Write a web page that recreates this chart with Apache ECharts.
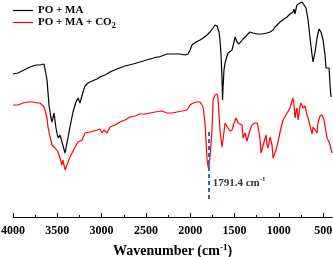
<!DOCTYPE html>
<html>
<head>
<meta charset="utf-8">
<script src="https://cdn.jsdelivr.net/npm/echarts@6/dist/echarts.min.js"></script>
<style>html,body{margin:0;padding:0;background:#fff}#c{width:333px;height:257px}</style>
</head>
<body>
<div id="c"></div>
<script>
// Wavenumber (cm-1) / relative transmittance (arb. units)
const seriesNames = ['PO + MA', 'PO + MA + CO2'];
const majorTicks = [4000, 3500, 3000, 2500, 2000, 1500, 1000, 500];
const minorTicks = [3750, 3250, 2750, 2250, 1750, 1250, 750];
const poMa = [[4000,143],[3944,144],[3898,146],[3853,148],[3808,150],[3774,151],[3740,152],[3718,153],[3695,152],[3673,154],[3650,153],[3639,151],[3616,137],[3594,112],[3571,99],[3560,95],[3537,104],[3515,89],[3492,79],[3470,82],[3447,75],[3413,64],[3391,74],[3357,90],[3323,105],[3289,115],[3266,119],[3244,114],[3233,112],[3210,125],[3187,131],[3153,134],[3108,136],[3052,138],[3018,140],[2962,142],[2905,145],[2826,148],[2736,151],[2646,153],[2567,155],[2454,158],[2375,160],[2363,162],[2352,160],[2262,163],[2171,163],[2115,163],[2059,162],[2025,163],[2002,167],[1980,172],[1934,175],[1889,177],[1855,179],[1810,182],[1777,185],[1742,189],[1720,192],[1697,191],[1675,185],[1664,177],[1652,162],[1641,137],[1635,117],[1630,129],[1619,147],[1607,154],[1585,161],[1573,164],[1551,165],[1528,167],[1506,175],[1494,180],[1472,175],[1449,173],[1427,175],[1404,178],[1381,180],[1348,183],[1325,185],[1291,184],[1246,183],[1190,183],[1133,184],[1099,185],[1065,187],[1043,190],[1020,192],[986,195],[941,198],[907,200],[874,203],[840,205],[828,208],[817,203],[806,208],[795,212],[761,214],[738,215],[716,214],[693,209],[670,197],[648,179],[625,162],[614,155],[591,165],[569,179],[546,188],[524,185],[501,177],[479,162],[467,149],[456,151],[445,147],[433,149],[422,132],[411,120]];
const poMaCo2 = [[4000,112],[3944,112],[3887,114],[3831,115],[3774,115],[3729,114],[3695,114],[3673,113],[3650,110],[3639,107],[3616,99],[3605,90],[3582,80],[3560,72],[3549,74],[3526,69],[3492,65],[3470,59],[3447,52],[3436,57],[3413,47],[3391,52],[3379,55],[3357,60],[3334,64],[3300,70],[3266,75],[3244,76],[3221,77],[3187,84],[3131,85],[3052,87],[3018,88],[2995,84],[2973,87],[2962,87],[2939,84],[2905,90],[2849,92],[2792,95],[2736,97],[2679,100],[2623,101],[2567,103],[2510,103],[2454,104],[2397,105],[2318,106],[2262,104],[2205,104],[2149,105],[2092,106],[2036,107],[2002,112],[1968,114],[1923,115],[1889,115],[1855,110],[1833,94],[1822,77],[1810,57],[1791.4,47],[1788,52],[1777,60],[1754,87],[1742,117],[1720,122],[1709,124],[1697,123],[1686,118],[1675,102],[1664,87],[1641,70],[1630,72],[1619,85],[1607,94],[1585,92],[1573,89],[1551,86],[1528,87],[1506,94],[1483,99],[1460,94],[1438,93],[1415,92],[1404,79],[1381,84],[1359,76],[1348,77],[1325,87],[1302,92],[1269,94],[1246,94],[1235,91],[1212,77],[1201,64],[1190,65],[1167,75],[1144,82],[1133,72],[1122,69],[1099,80],[1077,72],[1065,59],[1054,57],[1032,67],[1020,71],[986,85],[953,97],[907,104],[874,109],[851,116],[840,119],[828,112],[817,99],[806,105],[795,109],[783,97],[772,96],[761,111],[749,114],[727,109],[704,111],[682,102],[670,99],[648,91],[625,83],[614,90],[591,87],[569,84],[557,95],[535,101],[512,102],[490,97],[479,95],[456,79],[433,75],[422,72],[400,64]];
const markerWn = 1791.4;
const markerSpan = [15, 85];
const markerLabelY = 34;

const serif = '"Liberation Serif", "DejaVu Serif", serif';
const chart = echarts.init(document.getElementById('c'), null, {renderer: 'canvas'});
chart.setOption({
  animation: false,
  backgroundColor: '#fff',
  grid: {left: 13, right: 1, top: 0, bottom: 40, containLabel: false, outerBoundsMode: 'none'},
  legend: {
    orient: 'vertical', left: 8, top: 0, itemWidth: 20, itemHeight: 10, itemGap: 1,
    icon: 'path://M0,4.4 L20,4.4 L20,5.6 L0,5.6 Z',
    data: [{name: seriesNames[0], itemStyle: {color: '#000'}}, {name: seriesNames[1], itemStyle: {color: '#ff0000'}}],
    formatter: n => n === seriesNames[1] ? 'PO + MA + CO{sub|2}' : n,
    textStyle: {fontFamily: serif, fontWeight: 'bold', fontSize: 11, color: '#000',
      rich: {sub: {fontFamily: serif, fontWeight: 'bold', fontSize: 8, verticalAlign: 'top', padding: [6,0,0,0]}}}
  },
  xAxis: [{
    type: 'value', inverse: true, min: 400, max: 4000,
    axisLine: {onZero: false, lineStyle: {color: '#000', width: 1}},
    axisTick: {inside: true, length: 4, customValues: majorTicks, lineStyle: {color: '#000'}},
    axisLabel: {customValues: majorTicks, formatter: v => String(v), margin: 8, fontFamily: serif, fontWeight: 'bold', fontSize: 12, color: '#000', showMinLabel: true, showMaxLabel: true, hideOverlap: false},
    splitLine: {show: false},
    name: 'Wavenumber (cm{sup|-1})', nameLocation: 'middle', nameGap: 26,
    nameTextStyle: {fontFamily: serif, fontWeight: 'bold', fontSize: 14, color: '#000',
      rich: {sup: {fontFamily: serif, fontWeight: 'bold', fontSize: 9, verticalAlign: 'bottom', padding: [0,0,8,0]}}}
  }, {
    type: 'value', inverse: true, min: 400, max: 4000, position: 'bottom',
    axisLine: {show: false, onZero: false},
    axisTick: {inside: true, length: 2, customValues: minorTicks, lineStyle: {color: '#000'}},
    axisLabel: {show: false}, splitLine: {show: false}
  }],
  yAxis: {type: 'value', min: 0, max: 217, show: false},
  series: [{
    name: seriesNames[0], type: 'line', data: poMa, symbol: 'none', showSymbol: false,
    lineStyle: {color: '#000', width: 1.2}, itemStyle: {color: '#000'}
  }, {
    name: seriesNames[1], type: 'line', data: poMaCo2, symbol: 'none', showSymbol: false,
    lineStyle: {color: '#ff0000', width: 1.2}, itemStyle: {color: '#ff0000'},
    markLine: {
      silent: true, symbol: 'none', label: {show: false},
      lineStyle: {color: '#3a5fcd', width: 2, type: [4, 3]},
      data: [[{coord: [markerWn, markerSpan[1]]}, {coord: [markerWn, markerSpan[0]]}]]
    }
  }, {
    name: 'marker', type: 'scatter', data: [[markerWn, markerLabelY]], symbolSize: 0, silent: true,
    label: {show: true, position: 'right', distance: 4, formatter: '1791.4 cm{sup|-1}',
      fontFamily: serif, fontWeight: 'bold', fontSize: 11, color: '#000',
      rich: {sup: {fontFamily: serif, fontWeight: 'bold', fontSize: 7, verticalAlign: 'bottom', padding: [0,0,7,0]}}}
  }]
});
</script>
</body>
</html>
